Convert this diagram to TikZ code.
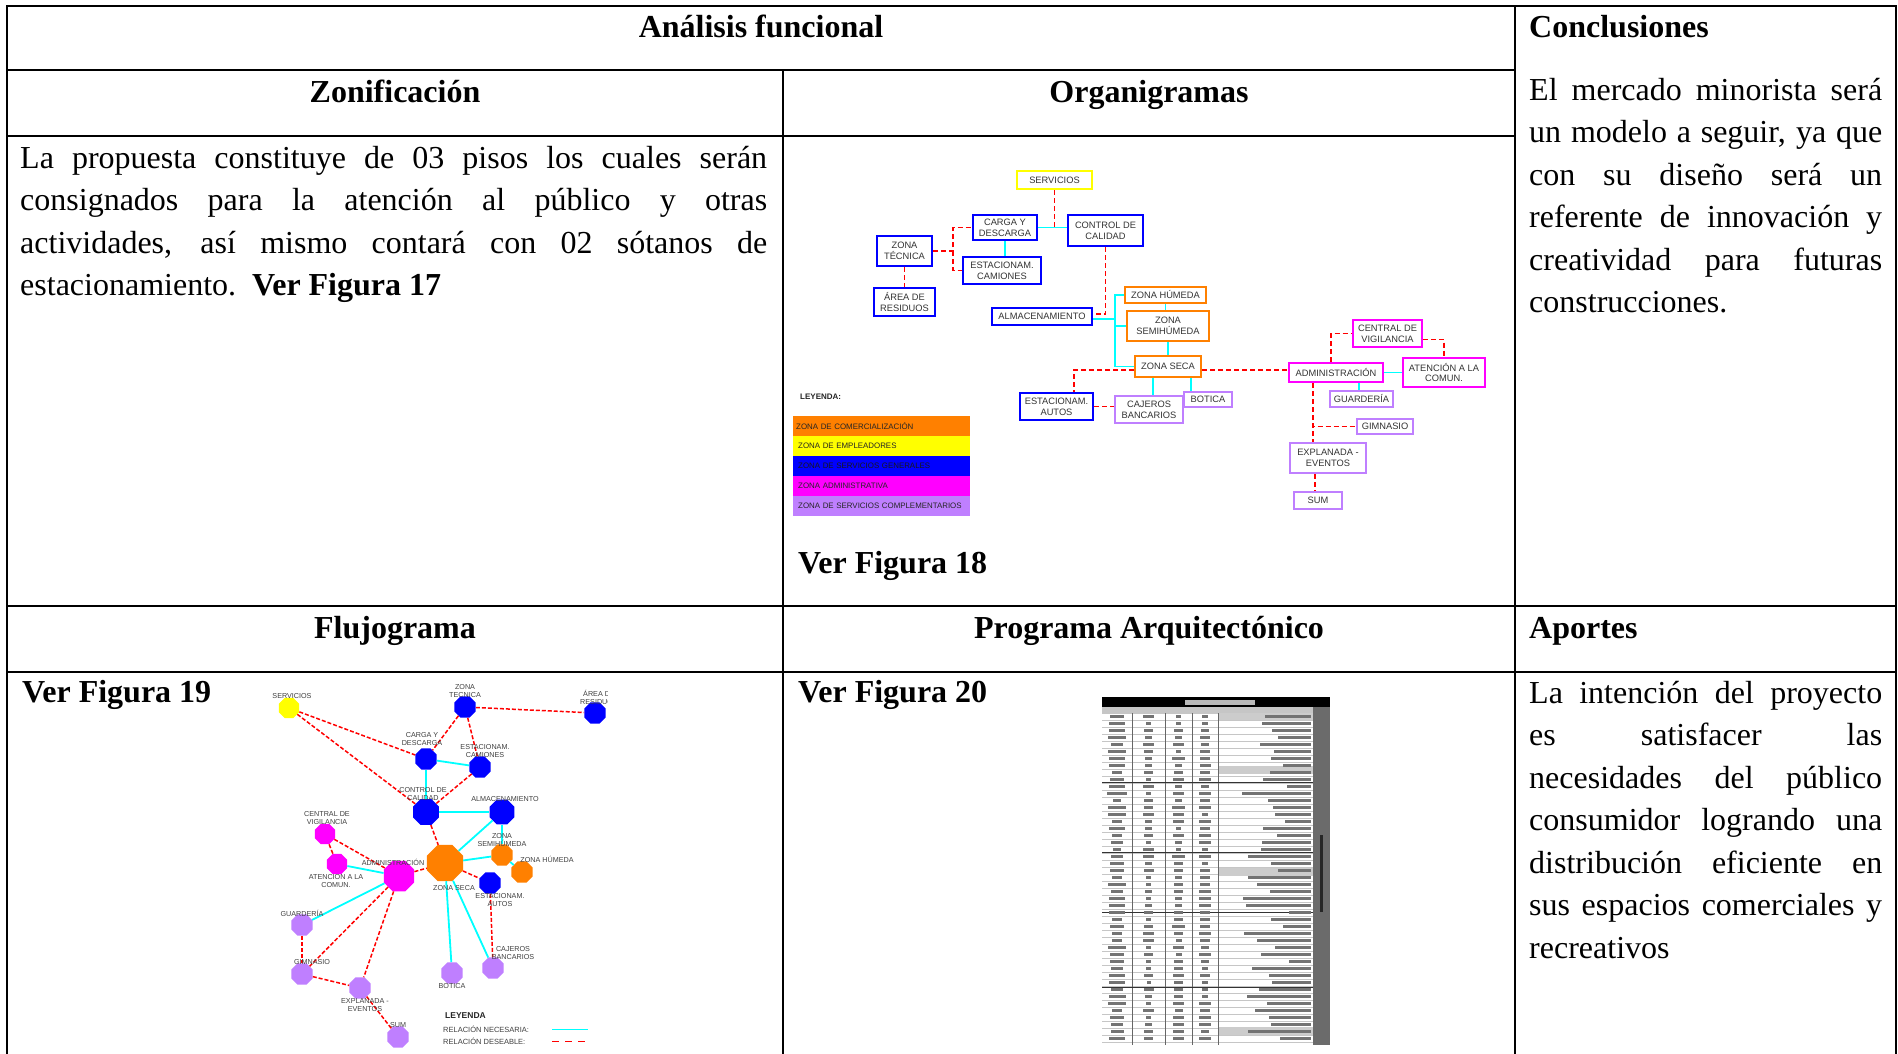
\documentclass[tikz,border=0pt]{standalone}
\usepackage{fontspec}
\setmainfont{Liberation Serif}
\newfontfamily\arial{Liberation Sans}
\usetikzlibrary{shapes.geometric}
\definecolor{oblue}{RGB}{0,0,255}
\definecolor{oyel}{RGB}{255,255,0}
\definecolor{oora}{RGB}{255,128,0}
\definecolor{omag}{RGB}{255,0,255}
\definecolor{olav}{RGB}{191,127,255}
\definecolor{ocyan}{RGB}{0,255,255}
\definecolor{ored}{RGB}{255,0,0}
\tolerance=10000
\hbadness=10000
\begin{document}
\begin{tikzpicture}[x=1pt,y=-1pt,
  tline/.style={line width=2.2pt, line cap=rect},
  hdr/.style={inner sep=0, font=\fontsize{32}{42.5}\selectfont\bfseries},
  body/.style={inner sep=0, anchor=north west, align=justify,
     font=\fontsize{32}{42.5}\selectfont},
  obox/.style={draw=#1, line width=2pt, fill=white, inner sep=0,
     font=\arial\fontsize{9.3}{10.6}\selectfont, text=black!80, align=center},
  des/.style={ored, line width=1.6pt, dash pattern=on 5pt off 3pt},
  nec/.style={ocyan, line width=1.6pt},
  legbar/.style={anchor=north west, minimum width=177, minimum height=20,
     text width=171pt, inner xsep=3pt, inner ysep=0,
     font=\arial\fontsize{7.9}{8.5}\selectfont, text=black!85, align=left},
  fnode/.style={regular polygon, regular polygon sides=8, fill=#1, draw=none, inner sep=0},
  flab/.style={font=\arial\fontsize{7.2}{7.9}\selectfont, text=black!75, align=center, inner sep=0},
  fdes/.style={ored, line width=1.5pt, dash pattern=on 4pt off 2pt},
  fnec/.style={ocyan, line width=1.8pt}]
\useasboundingbox (0,0) rectangle (1898,1053);
\fill[white] (0,0) rectangle (1898,1053);

% ---------------- table rules ----------------
\draw[tline] (7,6) -- (1896,6);
\draw[tline] (7,6) -- (7,1053);
\draw[tline] (1896,6) -- (1896,1053);
\draw[tline] (1515,6) -- (1515,1053);
\draw[tline] (783,70) -- (783,1053);
\draw[tline] (7,70) -- (1515,70);
\draw[tline] (7,136) -- (1515,136);
\draw[tline] (7,606) -- (1896,606);
\draw[tline] (7,672) -- (1896,672);

% ---------------- headers ----------------
\node[hdr, anchor=base] (h1) at (761,37) {Análisis funcional};
\node[hdr, anchor=base west] (h2) at (1529,37) {Conclusiones};
\node[hdr, anchor=base] (h3) at (395,102) {Zonificación};
\node[hdr, anchor=base] (h4) at (1149,102) {Organigramas};
\node[hdr, anchor=base] (h5) at (395,638) {Flujograma};
\node[hdr, anchor=base] (h6) at (1149,638) {Programa Arquitectónico};
\node[hdr, anchor=base west] (h7) at (1529,638) {Aportes};

% ---------------- body texts ----------------
\node[body, text width=747pt] (tzon) at (20,138.5) {\strut La propuesta constituye de 03 pisos los cuales serán\linebreak
consignados para la atención al público y otras\linebreak
actividades, así mismo contará con 02 sótanos de\linebreak
estacionamiento.\ \ \textbf{Ver Figura 17}};
\node[body, text width=353pt] (tcon) at (1529,70.5) {\strut El mercado minorista será\linebreak
un modelo a seguir, ya que\linebreak
con su diseño será un\linebreak
referente de innovación y\linebreak
creatividad para futuras\linebreak
construcciones.};
\node[body, text width=353pt] (tapo) at (1529,673.5) {\strut La intención del proyecto\linebreak
es satisfacer las\linebreak
necesidades del público\linebreak
consumidor logrando una\linebreak
distribución eficiente en\linebreak
sus espacios comerciales y\linebreak
recreativos};
\node[hdr, anchor=base west] (vf18) at (798,573) {Ver Figura 18};
\node[hdr, anchor=base west] (vf19) at (22,702) {Ver Figura 19};
\node[hdr, anchor=base west] (vf20) at (798,702) {Ver Figura 20};

% ---------------- organigrama ----------------
\node[obox=oyel, minimum width=75, minimum height=18] (serv) at (1054.5,180) {SERVICIOS};
\node[obox=oblue, minimum width=64, minimum height=25] (carga) at (1005,227.5) {CARGA Y\\DESCARGA};
\node[obox=oblue, minimum width=75, minimum height=31] (control) at (1105.5,230.5) {CONTROL DE\\CALIDAD};
\node[obox=oblue, minimum width=55, minimum height=30] (ztec) at (904.5,251) {ZONA\\TÉCNICA};
\node[obox=oblue, minimum width=78, minimum height=27] (estcam) at (1002,270.5) {ESTACIONAM.\\CAMIONES};
\node[obox=oblue, minimum width=61, minimum height=28] (resid) at (904.5,302) {ÁREA DE\\RESIDUOS};
\node[obox=oblue, minimum width=100, minimum height=17] (almac) at (1042,316.5) {ALMACENAMIENTO};
\node[obox=oora, minimum width=81, minimum height=16] (zhum) at (1165.5,295) {ZONA HÚMEDA};
\node[obox=oora, minimum width=82, minimum height=30] (zsemi) at (1168,326) {ZONA\\SEMIHÚMEDA};
\node[obox=oora, minimum width=66, minimum height=21] (zseca) at (1168,366.5) {ZONA SECA};
\node[obox=oblue, minimum width=73, minimum height=27] (estaut) at (1056.5,406.5) {ESTACIONAM.\\AUTOS};
\node[obox=olav, minimum width=68, minimum height=27] (cajeros) at (1149,409.5) {CAJEROS\\BANCARIOS};
\node[obox=olav, minimum width=48, minimum height=15] (botica) at (1208,399.5) {BOTICA};
\node[obox=omag, minimum width=94, minimum height=19] (admin) at (1336,372.5) {ADMINISTRACIÓN};
\node[obox=omag, minimum width=69, minimum height=27] (central) at (1387.5,333.5) {CENTRAL DE\\VIGILANCIA};
\node[obox=omag, minimum width=82, minimum height=29] (atenc) at (1444,372.5) {ATENCIÓN A LA\\COMUN.};
\node[obox=olav, minimum width=63, minimum height=16] (guard) at (1361.5,399) {GUARDERÍA};
\node[obox=olav, minimum width=56, minimum height=15] (gimn) at (1385,426.5) {GIMNASIO};
\node[obox=olav, minimum width=76, minimum height=30] (expl) at (1328,458) {EXPLANADA -\\EVENTOS};
\node[obox=olav, minimum width=48, minimum height=17] (sum) at (1318,500.5) {SUM};
\coordinate (cbus) at (1115,300);

\draw[des] (serv.south) -- (serv.south |- carga.east);
\draw[nec] (carga.east) -- (carga.east -| control.west);
\draw[des] (ztec.east) -- ++(20,0) coordinate (zt1) |- (carga.west);
\draw[des] (zt1) |- (estcam.west);
\draw[nec] (carga.south) -- (carga.south |- estcam.north);
\draw[des] (ztec.south) -- (ztec.south |- resid.north);
\draw[des] (control.south) |- ([yshift=2.5pt]almac.east);
\draw[nec] ([yshift=-2.5pt]almac.east) -- ([yshift=-2.5pt]almac.east -| cbus);
\draw[nec] (zhum.west) -- (zhum.west -| cbus) -- (cbus |- zseca.west) -- (zseca.west);
\draw[nec] (cbus |- zsemi.west) -- (zsemi.west);
\draw[nec] (zhum.south) -- (zhum.south |- zsemi.north);
\draw[nec] (zsemi.south) -- (zsemi.south |- zseca.north);
\draw[des] ([yshift=-3.5pt]zseca.west) -| ([xshift=17.5pt]estaut.north);
\draw[nec] ([xshift=-15pt]zseca.south) -- ([xshift=-15pt]zseca.south |- cajeros.north);
\draw[nec] ([xshift=23pt]zseca.south) -- ([xshift=23pt]zseca.south |- botica.north);
\draw[des] (estaut.east) -- (estaut.east -| cajeros.west);
\draw[des] ([yshift=-3.5pt]zseca.east) -- ([yshift=-3.5pt]zseca.east -| admin.west);
\draw[des] ([xshift=-5pt]admin.north) |- (central.west);
\draw[des] ([yshift=-6pt]central.east) -| (atenc.north);
\draw[nec] (admin.east) -- (admin.east -| atenc.west);
\draw[nec] ([xshift=23pt]admin.south) -- ([xshift=23pt]admin.south |- guard.north);
\draw[des] ([xshift=-23pt]admin.south) -- ([xshift=-23pt]admin.south |- expl.north);
\draw[des] ([xshift=-23pt]admin.south) |- (gimn.west);
\draw[des] ([xshift=-13pt]expl.south) -- ([xshift=-13pt]expl.south |- sum.north);

% legend organigrama
\node[anchor=west, inner sep=0, font=\arial\fontsize{8}{8.5}\selectfont\bfseries, text=black!85] (oley) at (800,397) {LEYENDA:};
\node[legbar, fill=oora] (lg1) at (793,416) {ZONA DE COMERCIALIZACIÓN};
\node[legbar, fill=oyel] (lg2) at (793,436) {\hspace{2pt}ZONA DE EMPLEADORES};
\node[legbar, fill=oblue, text=black!90] (lg3) at (793,456) {\hspace{2pt}ZONA DE SERVICIOS GENERALES};
\node[legbar, fill=omag] (lg4) at (793,476) {\hspace{2pt}ZONA ADMINISTRATIVA};
\node[legbar, fill=olav] (lg5) at (793,496) {\hspace{2pt}ZONA DE SERVICIOS COMPLEMENTARIOS};

% ---------------- flujograma ----------------
\begin{scope}
\clip (250,675) rectangle (607,1053);
\node[fnode=oyel, minimum size=22] (fserv) at (289,708) {};
\node[fnode=oblue, minimum size=23] (fztec) at (465,707) {};
\node[fnode=oblue, minimum size=23] (fres) at (595,713) {};
\node[fnode=oblue, minimum size=23] (fcarga) at (426,759) {};
\node[fnode=oblue, minimum size=23] (festcam) at (480,767) {};
\node[fnode=oblue, minimum size=28] (fcontrol) at (426,812) {};
\node[fnode=oblue, minimum size=27] (falmac) at (502,812) {};
\node[fnode=omag, minimum size=22] (fcentral) at (325,834) {};
\node[fnode=oora, minimum size=23] (fsemi) at (502,855) {};
\node[fnode=oora, minimum size=39] (fseca) at (445,863) {};
\node[fnode=oora, minimum size=23] (fhum) at (522,872) {};
\node[fnode=omag, minimum size=33] (fadmin) at (399,876) {};
\node[fnode=omag, minimum size=22] (faten) at (337,864) {};
\node[fnode=oblue, minimum size=23] (festaut) at (490,883) {};
\node[fnode=olav, minimum size=23] (fguard) at (302,925) {};
\node[fnode=olav, minimum size=23] (fgimn) at (302,974) {};
\node[fnode=olav, minimum size=23] (fexpl) at (360,988) {};
\node[fnode=olav, minimum size=23] (fsum) at (398,1037) {};
\node[fnode=olav, minimum size=23] (fbot) at (452,973) {};
\node[fnode=olav, minimum size=23] (fcaj) at (493,968) {};

\draw[fdes] (fserv) -- (fcarga);
\draw[fdes] (fserv) -- (fcontrol);
\draw[fdes] (fztec) -- (fcarga);
\draw[fdes] (fztec) -- (festcam);
\draw[fdes] (fztec) -- (fres);
\draw[fdes] (festcam) -- (fcontrol);
\draw[fdes] (fcontrol) -- (fseca);
\draw[fdes] (fcentral) -- (fadmin);
\draw[fdes] (fcentral) -- (faten);
\draw[fdes] (fadmin) -- (fseca);
\draw[fdes] (fadmin) -- (fgimn);
\draw[fdes] (fadmin) -- (fexpl);
\draw[fdes] (fguard) -- (fgimn);
\draw[fdes] (fgimn) -- (fexpl);
\draw[fdes] (fexpl) -- (fsum);
\draw[fdes] (fseca) -- (festaut);
\draw[fdes] (festaut) -- (fcaj);
\draw[fnec] (fcarga) -- (festcam);
\draw[fnec] (fcarga) -- (fcontrol);
\draw[fnec] (fcontrol) -- (falmac);
\draw[fnec] (falmac) -- (fseca);
\draw[fnec] (falmac) -- (fsemi);
\draw[fnec] (fseca) -- (fsemi);
\draw[fnec] (fsemi) -- (fhum);
\draw[fnec] (faten) -- (fadmin);
\draw[fnec] (fadmin) -- (fguard);
\draw[fnec] (fseca) -- (fbot);
\draw[fnec] (fseca) -- (fcaj);

\node[flab] (lserv) at (292,696) {SERVICIOS};
\node[flab] (lztec) at (465,691) {ZONA\\TECNICA};
\node[flab] (lres) at (599,697) {ÁREA DE\\RESIDUOS};
\node[flab] (lcarga) at (422,739) {CARGA Y\\DESCARGA};
\node[flab] (lestcam) at (485,751) {ESTACIONAM.\\CAMIONES};
\node[flab] (lcontrol) at (423,794) {CONTROL DE\\CALIDAD};
\node[flab] (lalmac) at (505,799) {ALMACENAMIENTO};
\node[flab] (lcentral) at (327,818) {CENTRAL DE\\VIGILANCIA};
\node[flab] (lsemi) at (502,840) {ZONA\\SEMIHÚMEDA};
\node[flab] (lhum) at (547,859) {ZONA HÚMEDA};
\node[flab] (ladmin) at (393,862) {ADMINISTRACIÓN};
\node[flab] (laten) at (336,881) {ATENCION A LA\\COMUN.};
\node[flab] (lseca) at (454,888) {ZONA SECA};
\node[flab] (lestaut) at (500,900) {ESTACIONAM.\\AUTOS};
\node[flab] (lguard) at (302,913) {GUARDERÍA};
\node[flab] (lgimn) at (312,962) {GIMNASIO};
\node[flab] (lexpl) at (365,1005) {EXPLANADA -\\EVENTOS};
\node[flab] (lsum) at (398,1025) {SUM};
\node[flab] (lbot) at (452,986) {BOTICA};
\node[flab] (lcaj) at (513,953) {CAJEROS\\BANCARIOS};

\node[flab, anchor=west, font=\arial\fontsize{8.5}{9}\selectfont\bfseries, text=black!85] (fley) at (445,1016) {LEYENDA};
\node[flab, anchor=west, font=\arial\fontsize{7.5}{8}\selectfont] (fnecl) at (443,1029) {RELACIÓN NECESARIA:};
\node[flab, anchor=west, font=\arial\fontsize{7.5}{8}\selectfont] (fdesl) at (443,1041) {RELACIÓN DESEABLE:};
\coordinate (ln1a) at (552,1029); \coordinate (ln1b) at (588,1029);
\coordinate (ln2a) at (552,1041); \coordinate (ln2b) at (588,1041);
\draw[ocyan, line width=1pt] (ln1a) -- (ln1b);
\draw[ored, line width=1pt, dash pattern=on 7pt off 6pt] (ln2a) -- (ln2b);
\end{scope}

% ---------------- programa arquitectonico (raster-like table) ----------------
\begin{scope}
\fill[white] (1102,697) rectangle (1330,1045);
\fill[black] (1102,697) rectangle (1330,707);
\fill[gray!55] (1185,700) rectangle (1255,704.5);
\fill[gray!45] (1102,707) rectangle (1313,713);
\fill[black!58] (1313,707) rectangle (1330,1045);
\fill[black!85] (1319.5,835) rectangle (1323,912);
\foreach \yy in {713,720,...,1045}
  \draw[gray!45, line width=.4pt] (1102,\yy) -- (1313,\yy);
\fill[gray!40] (1218,713) rectangle (1313,720);
\fill[gray!40] (1218,766) rectangle (1313,774);
\fill[gray!40] (1218,868) rectangle (1313,876);
\fill[gray!40] (1218,1027) rectangle (1313,1035);
\foreach \xx in {1132,1165,1192,1218}
  \draw[black!60, line width=.5pt] (\xx,713) -- (\xx,1045);
\foreach \yy in {782,852,912,987}
  \draw[black!80, line width=.8pt] (1102,\yy) -- (1313,\yy);
\pgfmathsetseed{5}
\foreach \r in {0,...,46}{
  \pgfmathsetmacro\yc{716.5+7*\r}
  \pgfmathsetmacro\wa{8+rnd*12}
  \pgfmathsetmacro\wb{4+rnd*8}
  \pgfmathsetmacro\wc{5+rnd*8}
  \pgfmathsetmacro\wd{5+rnd*8}
  \pgfmathsetmacro\we{20+rnd*50}
  \fill[black!55] (1117-\wa/2,\yc-1.4) rectangle (1117+\wa/2,\yc+1.4);
  \fill[black!55] (1148.5-\wb/2,\yc-1.4) rectangle (1148.5+\wb/2,\yc+1.4);
  \fill[black!55] (1178.5-\wc/2,\yc-1.4) rectangle (1178.5+\wc/2,\yc+1.4);
  \fill[black!55] (1205-\wd/2,\yc-1.4) rectangle (1205+\wd/2,\yc+1.4);
  \fill[black!55] (1311-\we,\yc-1.4) rectangle (1311,\yc+1.4);
}
\end{scope}
\end{tikzpicture}
\end{document}
